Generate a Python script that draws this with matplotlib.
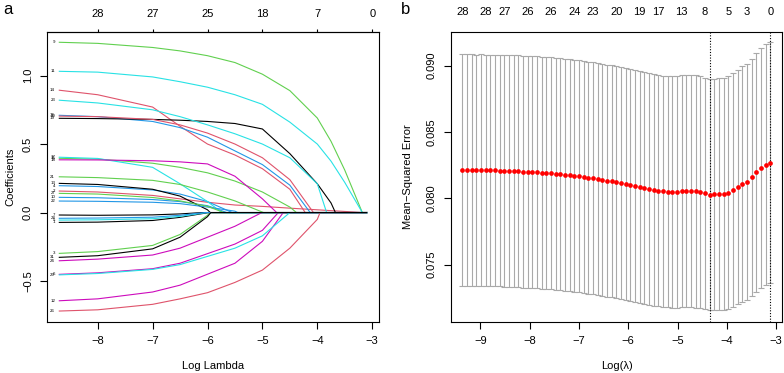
import numpy as np
import matplotlib
matplotlib.use("Agg")
from matplotlib import pyplot as plt
from matplotlib import transforms

plt.rcParams["font.family"] = ["Liberation Sans", "DejaVu Sans"]
plt.rcParams["axes.linewidth"] = 0.8

# R default palette, matplot cycles col = 1:6 over the variables
R_COLS = ["black", "#DF536B", "#61D04F", "#2297E6", "#28E2E5", "#CD0BBC"]

# ---- panel a: lasso coefficient paths ----
knots = [-8.7, -8.0, -7.0, -6.5, -6.0, -5.5, -5.0, -4.5, -4.0, -3.75, -3.5]
lambda_end = -3.1
var_ids = [1, 2, 3, 4, 5, 6, 7, 9, 10, 11, 12, 13, 14, 15,
           16, 17, 18, 19, 20, 21, 22, 23, 24, 26, 27, 28, 29, 31]
# log lambda where each coefficient hits zero
zero_at = [-5.98, -3.19, -5.96, -5.55, -6.0, -4.71, -6.1, -3.18, -5.65, -3.18,
           -4.62, -5.95, -4.22, -4.38, -4.13, -5.74, -4.74, -3.67, -4.07, -4.98,
           -5.45, -3.83, -5.01, -3.95, -5.7, -6.05, -4.5, -5.94]
# coefficient values at the knots (until the coefficient is zero)
coef_paths = [
    [-0.072, -0.07, -0.058, -0.035],
    [0.157, 0.15, 0.125, 0.10, 0.075, 0.055, 0.045, 0.032, 0.02, 0.014, 0.008],
    [-0.298, -0.285, -0.24, -0.16, -0.02],
    [0.196, 0.19, 0.165, 0.135, 0.08],
    [-0.055, -0.053, -0.045, -0.028],
    [-0.451, -0.44, -0.41, -0.37, -0.30, -0.23, -0.13],
    [-0.018, -0.02, -0.017, -0.01],
    [1.243, 1.235, 1.205, 1.18, 1.145, 1.095, 1.01, 0.89, 0.69, 0.52, 0.31],
    [0.111, 0.108, 0.095, 0.08, 0.05],
    [1.031, 1.025, 0.99, 0.955, 0.915, 0.86, 0.79, 0.66, 0.50, 0.375, 0.22],
    [-0.644, -0.63, -0.58, -0.53, -0.45, -0.37, -0.21],
    [0.213, 0.205, 0.17, 0.12, 0.02],
    [0.893, 0.86, 0.77, 0.63, 0.50, 0.42, 0.32, 0.17],
    [0.396, 0.39, 0.36, 0.33, 0.29, 0.23, 0.15, 0.04],
    [0.71, 0.70, 0.665, 0.62, 0.55, 0.45, 0.35, 0.20],
    [0.404, 0.395, 0.33, 0.21, 0.08],
    [0.385, 0.384, 0.378, 0.37, 0.355, 0.265, 0.10],
    [0.688, 0.686, 0.68, 0.674, 0.665, 0.65, 0.61, 0.43, 0.21, 0.07],
    [0.704, 0.70, 0.68, 0.64, 0.58, 0.50, 0.40, 0.24],
    [0.261, 0.255, 0.235, 0.205, 0.15, 0.085],
    [0.084, 0.082, 0.075, 0.065, 0.04, 0.01],
    [0.82, 0.80, 0.75, 0.70, 0.64, 0.575, 0.50, 0.40, 0.21],
    [-0.352, -0.34, -0.31, -0.26, -0.18, -0.10],
    [-0.719, -0.71, -0.67, -0.63, -0.585, -0.51, -0.42, -0.26, -0.05],
    [0.14, 0.135, 0.11, 0.085, 0.045],
    [-0.042, -0.04, -0.034, -0.02],
    [-0.455, -0.445, -0.415, -0.38, -0.32, -0.26, -0.17],
    [-0.327, -0.315, -0.265, -0.18, -0.03],
]
df_ticks = [-8, -7, -6, -5, -4, -3]
df_labels = ["28", "27", "25", "18", "7", "0"]

# ---- panel b: cross-validation curve ----
log_lambda = np.linspace(-9.364, -3.12, 67)
cv_mean = [
    0.08213, 0.08213, 0.08213, 0.08212, 0.08212, 0.08211, 0.08211, 0.08210,
    0.08209, 0.08208, 0.08207, 0.08206, 0.08204, 0.08202, 0.08200, 0.08198,
    0.08196, 0.08194, 0.08191, 0.08188, 0.08185, 0.08182, 0.08178, 0.08174,
    0.08170, 0.08166, 0.08161, 0.08156, 0.08151, 0.08146, 0.08140, 0.08134,
    0.08128, 0.08121, 0.08114, 0.08107, 0.08100, 0.08093, 0.08086, 0.08079,
    0.08071, 0.08064, 0.08058, 0.08053, 0.08050, 0.08049, 0.08050, 0.08053,
    0.08055, 0.08055, 0.08052, 0.08045, 0.08037, 0.08029, 0.08030, 0.08032,
    0.08036, 0.08044, 0.08062, 0.08085, 0.08108, 0.08125, 0.08158, 0.08195,
    0.08228, 0.08255, 0.08269,
]
cv_sd = [
    0.00872, 0.00872, 0.00872, 0.00872, 0.00873, 0.00873, 0.00873, 0.00873,
    0.00873, 0.00873, 0.00874, 0.00874, 0.00874, 0.00874, 0.00874, 0.00874,
    0.00874, 0.00874, 0.00874, 0.00874, 0.00874, 0.00875, 0.00875, 0.00875,
    0.00875, 0.00875, 0.00875, 0.00875, 0.00875, 0.00875, 0.00875, 0.00875,
    0.00875, 0.00874, 0.00874, 0.00874, 0.00873, 0.00873, 0.00872, 0.00872,
    0.00872, 0.00872, 0.00872, 0.00872, 0.00872, 0.00873, 0.00874, 0.00875,
    0.00876, 0.00876, 0.00875, 0.00874, 0.00873, 0.00872, 0.00872, 0.00873,
    0.00875, 0.00877, 0.00880, 0.00883, 0.00887, 0.00890, 0.00895, 0.00900,
    0.00905, 0.00908, 0.00910,
]
idx_min, idx_1se = 53, 66
nz_label_idx = [0, 5, 9, 14, 19, 24, 28, 33, 38, 42, 47, 52, 57, 61, 66]
nz_labels = ["28", "28", "27", "26", "26", "24", "23", "20", "19", "17",
             "13", "8", "5", "3", "0"]

fig = plt.figure(figsize=(7.84, 3.73), dpi=100)
ax_a = fig.add_axes([47 / 784, 51 / 373, 332 / 784, 290 / 373])
ax_b = fig.add_axes([451 / 784, 51 / 373, 331 / 784, 290 / 373])

# draw the coefficient paths
for vid, z, vals in zip(var_ids, zero_at, coef_paths):
    xs = knots[:len(vals)] + [z, lambda_end]
    ys = vals + [0.0, 0.0]
    ax_a.plot(xs, ys, color=R_COLS[(vid - 1) % 6], lw=0.8)
    ax_a.annotate(str(vid), (knots[0], vals[0]), xytext=(-3, 0),
                  textcoords="offset points", ha="right", va="center",
                  fontsize=3.2)

ax_a.set_xlim(-8.924, -2.876)
ax_a.set_ylim(-0.799, 1.318)
ax_a.set_xticks(df_ticks)
ax_a.set_yticks([-0.5, 0.0, 0.5, 1.0])
ax_a.set_yticklabels(["−0.5", "0.0", "0.5", "1.0"], rotation=90, va="center")
ax_a.set_xlabel("Log Lambda", fontsize=8, va="center")
ax_a.xaxis.set_label_coords(0.5, -0.152)
ax_a.set_ylabel("Coefficients", fontsize=8, va="center")
ax_a.yaxis.set_label_coords(-0.111, 0.5)
ax_a.tick_params(labelsize=8, length=5, width=0.8, pad=5)

top = ax_a.secondary_xaxis("top")
top.set_xticks(df_ticks)
top.set_xticklabels(df_labels)
top.tick_params(labelsize=8, length=2.5, width=0.8, pad=6.5)

# cv curve with error bars
mean = np.array(cv_mean)
sd = np.array(cv_sd)
barw = 0.01 * (log_lambda.max() - log_lambda.min())
ax_b.vlines(log_lambda, mean - sd, mean + sd, color="#A9A9A9", lw=0.8)
ax_b.hlines(mean + sd, log_lambda - barw, log_lambda + barw, color="#A9A9A9", lw=0.8)
ax_b.hlines(mean - sd, log_lambda - barw, log_lambda + barw, color="#A9A9A9", lw=0.8)
ax_b.plot(log_lambda, mean, "o", color="red", ms=3.4, mec="none", zorder=3)
for i in (idx_min, idx_1se):
    ax_b.axvline(log_lambda[i], color="black", ls=(0, (1, 1.5)), lw=0.8)

trans = transforms.blended_transform_factory(ax_b.transData, ax_b.transAxes)
for i, lab in zip(nz_label_idx, nz_labels):
    ax_b.text(log_lambda[i], 1.069, lab, transform=trans, ha="center",
              va="center", fontsize=8)

ax_b.set_xlim(-9.593, -2.883)
ax_b.set_ylim(0.07068, 0.09254)
ax_b.set_xticks([-9, -8, -7, -6, -5, -4, -3])
ax_b.set_yticks([0.075, 0.080, 0.085, 0.090])
ax_b.set_yticklabels(["0.075", "0.080", "0.085", "0.090"], rotation=90, va="center")
ax_b.set_xlabel("Log(λ)", fontsize=8, va="center")
ax_b.xaxis.set_label_coords(0.5, -0.152)
ax_b.set_ylabel("Mean−Squared Error", fontsize=8, va="center")
ax_b.yaxis.set_label_coords(-0.130, 0.5)
ax_b.tick_params(labelsize=8, length=5, width=0.8, pad=5)

fig.text(8 / 784, 1 - 9 / 373, "a", fontsize=12, ha="center", va="center")
fig.text(406 / 784, 1 - 9 / 373, "b", fontsize=12, ha="center", va="center")

fig.savefig("out.png", dpi=100)
